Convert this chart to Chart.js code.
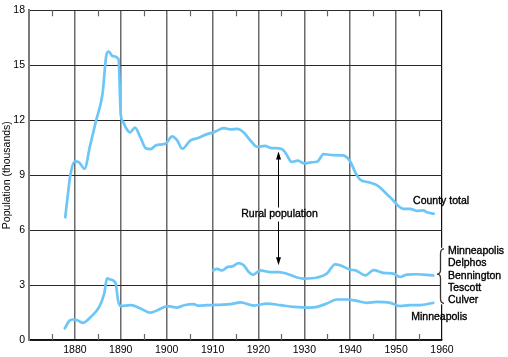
<!DOCTYPE html>
<html>
<head>
<meta charset="utf-8">
<script src="https://cdn.jsdelivr.net/npm/chart.js@4.4.0/dist/chart.umd.min.js"></script>
<style>
html,body{margin:0;padding:0;background:#fff;}
#wrap{width:508px;height:357px;}
</style>
</head>
<body>
<div id="wrap"><canvas id="c" width="508" height="357"></canvas></div>
<script>
// ---- data ----
const countyYears = [1877.9,1878.5,1879.0,1880.0,1880.9,1882.1,1883.3,1884.6,1886.0,1886.9,1887.4,1888.2,1889.5,1890.0,1890.5,1891.2,1892.0,1893.1,1894.3,1895.5,1896.5,1897.6,1899.8,1901.2,1902.3,1903.4,1905.2,1906.7,1908.8,1910.3,1912.5,1913.9,1915.4,1916.8,1918.3,1919.7,1921.4,1922.8,1924.5,1925.5,1926.3,1927.2,1928.6,1930.0,1931.5,1932.9,1934.2,1935.8,1938.4,1940.0,1941.2,1942.2,1944.0,1945.8,1948.7,1951.6,1953.0,1954.5,1955.9,1956.7,1958.2];
const countyValues = [6.7,8.0,9.0,9.75,9.7,9.35,10.6,11.96,13.4,15.6,15.75,15.5,15.35,12.3,11.9,11.55,11.33,11.6,11.05,10.45,10.42,10.62,10.73,11.12,10.9,10.44,10.9,11.02,11.24,11.35,11.57,11.5,11.53,11.33,10.88,10.55,10.6,10.48,10.46,10.35,10.05,9.72,9.79,9.64,9.7,9.75,10.15,10.1,10.08,9.75,9.1,8.75,8.61,8.45,7.79,7.16,7.16,7.05,7.08,6.98,6.89];

const ruralYears = [1910.1,1911.0,1912.1,1913.2,1914.3,1915.7,1916.8,1917.9,1918.8,1920.4,1922.6,1924.4,1926.2,1928.4,1929.8,1932.8,1934.9,1936.7,1937.8,1940.0,1941.2,1943.3,1945.1,1947.2,1949.4,1950.9,1952.3,1954.5,1955.9,1958.1];
const ruralValues = [3.8,3.88,3.8,3.98,4.02,4.2,4.08,3.71,3.56,3.8,3.71,3.71,3.62,3.41,3.35,3.41,3.62,4.13,4.08,3.84,3.8,3.53,3.81,3.66,3.62,3.44,3.57,3.59,3.57,3.53];

const minneapolisYears = [1877.8,1878.8,1879.5,1880.5,1881.7,1883.5,1885.3,1886.4,1887.0,1887.8,1888.9,1889.4,1890.0,1892.2,1894.3,1896.5,1898.0,1900.2,1902.3,1903.8,1905.9,1906.8,1908.8,1913.9,1916.1,1919.0,1921.9,1924.8,1927.7,1931.3,1932.8,1934.9,1937.1,1939.3,1941.4,1943.6,1945.8,1948.7,1950.9,1953.0,1955.2,1958.1];
const minneapolisValues = [0.64,1.05,1.12,1.08,0.94,1.27,1.81,2.54,3.36,3.3,3.08,2.17,1.85,1.9,1.72,1.49,1.63,1.85,1.77,1.9,1.96,1.88,1.9,1.96,2.05,1.88,1.99,1.9,1.81,1.77,1.81,1.99,2.21,2.21,2.14,2.03,2.08,2.03,1.85,1.9,1.9,2.03];

const xTickYears = [1880,1890,1900,1910,1920,1930,1940,1950,1960];
const yTickValues = [0,3,6,9,12,15,18];
const minorTickYears = [1875,1885,1895,1905,1915,1925,1935,1945,1955];
const groupLabels = ["Minneapolis","Delphos","Bennington","Tescott","Culver"];
const yTitle = "Population (thousands)";

const toPts = (xs, ys) => xs.map((x, i) => ({x: x, y: ys[i]}));

const FONT = "'Liberation Sans', Arial, Helvetica, sans-serif";
const LINE = '#6cc6f7';

function boldText(ctx, t, x, y) {
  ctx.fillText(t, x, y);
  ctx.lineWidth = 0.35; ctx.strokeStyle = '#000';
  ctx.strokeText(t, x, y);
}

const annot = {
  id: 'annot',
  afterDatasetsDraw(chart) {
    const ctx = chart.ctx, xs = chart.scales.x, ys = chart.scales.y, a = chart.chartArea;
    ctx.save();
    // minor ticks
    ctx.strokeStyle = '#666'; ctx.lineWidth = 1.2;
    minorTickYears.forEach(yr => {
      const px = Math.round(xs.getPixelForValue(yr)) + 0.5;
      ctx.beginPath(); ctx.moveTo(px, a.top); ctx.lineTo(px, a.top + 6); ctx.stroke();
      ctx.beginPath(); ctx.moveTo(px, a.bottom - 6); ctx.lineTo(px, a.bottom); ctx.stroke();
    });
    // rural population arrow
    ctx.fillStyle = '#000'; ctx.strokeStyle = '#000'; ctx.lineWidth = 1;
    const ax = Math.round(xs.getPixelForValue(1924.3)) + 0.5;
    const topTip = ys.getPixelForValue(10.29), botTip = ys.getPixelForValue(4.08);
    const txtY = ys.getPixelForValue(6.85);
    ctx.beginPath(); ctx.moveTo(ax, topTip + 6); ctx.lineTo(ax, txtY - 7); ctx.stroke();
    ctx.beginPath(); ctx.moveTo(ax, txtY + 7); ctx.lineTo(ax, botTip - 6); ctx.stroke();
    ctx.beginPath(); ctx.moveTo(ax, topTip); ctx.lineTo(ax - 2.5, topTip + 8); ctx.lineTo(ax + 2.5, topTip + 8); ctx.closePath(); ctx.fill();
    ctx.beginPath(); ctx.moveTo(ax, botTip); ctx.lineTo(ax - 2.5, botTip - 8); ctx.lineTo(ax + 2.5, botTip - 8); ctx.closePath(); ctx.fill();
    ctx.font = '10.5px ' + FONT;
    ctx.textBaseline = 'middle';
    ctx.textAlign = 'center';
    boldText(ctx, 'Rural population', ax + 1, txtY);
    // county total label
    ctx.textAlign = 'left';
    boldText(ctx, 'County total', xs.getPixelForValue(1953.7), ys.getPixelForValue(7.57));
    // Minneapolis city label
    boldText(ctx, 'Minneapolis', xs.getPixelForValue(1953.3), ys.getPixelForValue(1.23));
    // group labels
    const gx = a.right + 6;
    const gy0 = ys.getPixelForValue(4.84);
    groupLabels.forEach((t, i) => boldText(ctx, t, gx, gy0 + i * 12.2));
    // brace
    const bTop = ys.getPixelForValue(4.98), bBot = ys.getPixelForValue(2.0);
    const bMid = ys.getPixelForValue(3.6);
    ctx.fillStyle = '#fff';
    ctx.fillRect(a.right - 2, bTop - 1, 4, bBot - bTop + 2);
    const bx = a.right - 0.5;
    ctx.strokeStyle = '#333'; ctx.lineWidth = 1.3;
    ctx.beginPath();
    ctx.moveTo(bx + 2.5, bTop);
    ctx.quadraticCurveTo(bx - 1, bTop, bx - 1, bTop + 5);
    ctx.lineTo(bx - 1, bMid - 4);
    ctx.quadraticCurveTo(bx - 1, bMid, bx - 4.5, bMid);
    ctx.quadraticCurveTo(bx - 1, bMid, bx - 1, bMid + 4);
    ctx.lineTo(bx - 1, bBot - 5);
    ctx.quadraticCurveTo(bx - 1, bBot, bx + 2.5, bBot);
    ctx.stroke();
    ctx.restore();
  }
};

const ds = (pts) => ({
  data: pts, borderColor: LINE, borderWidth: 2.7, pointRadius: 0,
  fill: false, tension: 0.35, cubicInterpolationMode: 'monotone', borderCapStyle: 'round', borderJoinStyle: 'round'
});

new Chart(document.getElementById('c'), {
  type: 'line',
  data: {
    datasets: [
      ds(toPts(countyYears, countyValues)),
      ds(toPts(ruralYears, ruralValues)),
      ds(toPts(minneapolisYears, minneapolisValues))
    ]
  },
  options: {
    responsive: false,
    animation: false,
    devicePixelRatio: 1,
    layout: {padding: {top: 9, right: 66, left: 0, bottom: 0}},
    plugins: {legend: {display: false}, tooltip: {enabled: false}},
    scales: {
      x: {
        type: 'linear', min: 1870, max: 1960,
        afterBuildTicks: s => { s.ticks = [1870].concat(xTickYears).map(v => ({value: v})); },
        afterFit: s => { s.height = 17; },
        ticks: {
          padding: 4, maxRotation: 0, autoSkip: false,
          font: {family: FONT, size: 10.5}, color: '#000',
          callback: v => (xTickYears.includes(v) ? String(v) : '')
        },
        grid: {
          drawTicks: false,
          color: c => (c.tick && c.tick.value === 1960 ? '#111' : '#6a6a6a'),
          lineWidth: c => (c.tick && c.tick.value === 1960 ? 1.2 : 1.5)
        },
        border: {display: true, color: '#111', width: 1.5}
      },
      y: {
        min: 0, max: 18,
        afterBuildTicks: s => { s.ticks = yTickValues.map(v => ({value: v})); },
        afterFit: s => { s.width = 29; },
        ticks: {padding: 4, font: {family: FONT, size: 10.5}, color: '#000', callback: v => String(v)},
        grid: {drawTicks: false, color: '#2a2a2a', lineWidth: 1},
        border: {display: true, color: '#7a7a7a', width: 2},
        title: {display: true, text: yTitle, font: {family: FONT, size: 10.5}, color: '#000', padding: {top: 1, bottom: 0}}
      }
    }
  },
  plugins: [annot]
});
</script>
</body>
</html>
